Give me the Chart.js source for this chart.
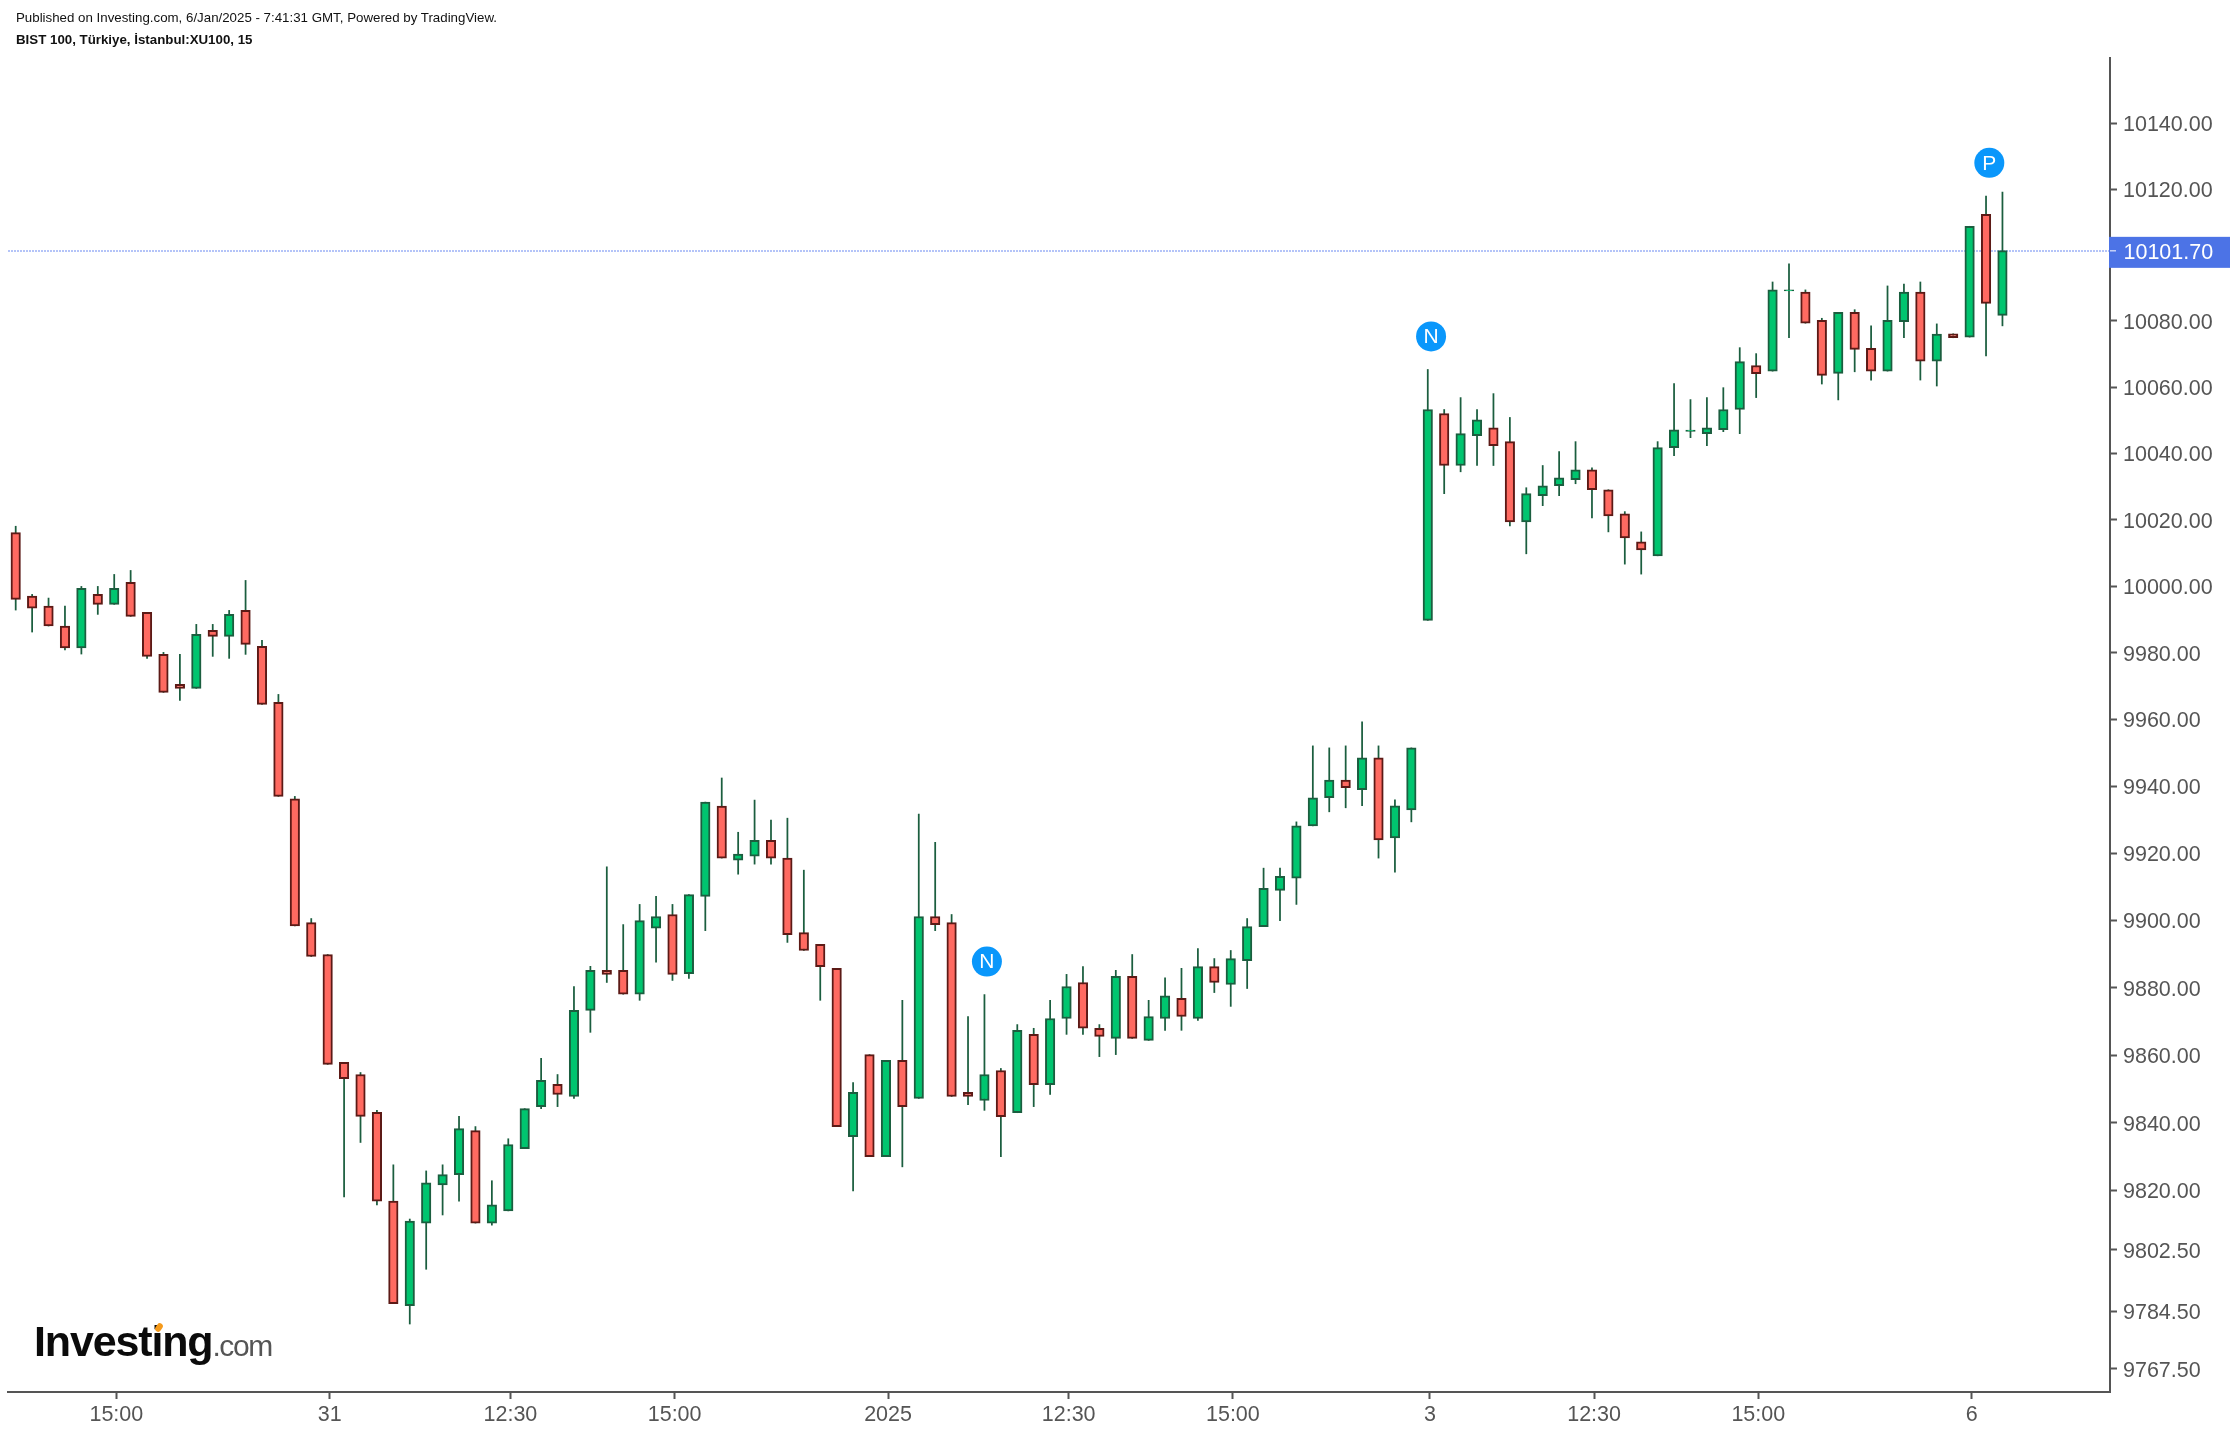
<!DOCTYPE html>
<html lang="en">
<head>
    <meta charset="UTF-8">
    <title>BIST 100, Türkiye, İstanbul:XU100, 15</title>
    <script src="https://cdn.jsdelivr.net/npm/chart.js"></script>
    <style>
        html, body { margin: 0; padding: 0; background: #fff; }
        body { width: 2230px; height: 1434px; position: relative; overflow: hidden; font-family: "Liberation Sans", Arial, sans-serif; }
        #priceChart { position: absolute; left: 0; top: 0; }
        .head { position: absolute; left: 16px; font-size: 13.3px; color: #111; white-space: nowrap; }
        #published { top: 10px; }
        #symbol { top: 32px; font-weight: bold; }
        #logo { position: absolute; left: 34px; top: 1316px; white-space: nowrap; color: #0b0b0b; font-weight: bold; font-size: 43px; letter-spacing: -1.15px; line-height: 50px; }
        #logo span { color: #555; font-weight: normal; font-size: 30px; letter-spacing: -1.4px; }
        #logoDot { position: absolute; left: 156px; top: 1323px; width: 6px; height: 9px; border-radius: 3px; background: #f59a1b; transform: rotate(35deg); }
    </style>
</head>
<body>
    <canvas id="priceChart" width="2230" height="1434"></canvas>
    <div class="head" id="published">Published on Investing.com, 6/Jan/2025 - 7:41:31 GMT, Powered by TradingView.</div>
    <div class="head" id="symbol">BIST 100, Türkiye, İstanbul:XU100, 15</div>
    <div id="logo">Investing<span>.com</span></div>
    <div id="logoDot"></div>

    <script>
    // 15 minute candles
    const opens = [10016.1,9997,9994,9988,9981.4,9997.5,9994.5,10001.1,9992.1,9979.5,9970.5,9969.3,9986.7,9984.9,9992.7,9981.9,9965.1,9936.3,9899.4,9889.9,
        9857.9,9854.3,9843.1,9816.9,9786.1,9810.4,9821.7,9824.7,9837.7,9810.4,9814,9832.4,9844.8,9851.4,9847.8,9873.3,9885.2,9885.2,9878.1,9897.7,
        9901.8,9884.2,9907.2,9934.1,9918,9919.2,9923.9,9918.6,9896.4,9892.9,9885.8,9835.9,9860.2,9830,9858.5,9847.2,9901.2,9899.4,9849,9846.6,
        9855.5,9843,9866.2,9851.3,9870.9,9881.6,9868,9865,9883.4,9864.4,9870.9,9876.9,9870.9,9886.3,9881,9888.1,9898.2,9909,9912.6,9928.2,
        9936.6,9941.9,9939,9948.5,9924.6,9933,9989.7,10052,10036.3,10045.3,10047.7,10043.5,10019.3,10027.2,10030.2,10032,10035,10029,10021.7,10013.3,
        10009.1,10041.7,10046.6,10045.9,10047.1,10053.2,10066.5,10064.8,10089.1,10088.7,10080.2,10064.1,10082.6,10071.7,10064.8,10079.8,10088.7,10067.8,10076.1,10075.1,
        10112.3,10081.7];
    const highs = [10018,9997.5,9996.4,9994,9999.9,9999.9,10003.5,10004.7,9992.1,9980.1,9979.5,9988.5,9988.5,9992.7,10001.7,9983.7,9967.5,9937,9900.6,9889.9,
        9857.9,9854.9,9843.7,9827.6,9811.6,9825.8,9827.6,9841.9,9838.9,9822.9,9835.3,9844.2,9859.1,9854.3,9880.4,9886.4,9916,9898.8,9904.8,9907.2,
        9904.8,9907.7,9935.3,9942.5,9926.3,9935.9,9929.9,9930.5,9915,9892.9,9885.8,9851.9,9860.2,9858.5,9876.3,9931.7,9923.3,9901.8,9871.5,9878,
        9856.1,9869.1,9868,9876.3,9884,9886.3,9869.1,9885.2,9889.9,9876.3,9883,9885.8,9891.7,9888.7,9891.1,9900.6,9915.6,9915.6,9929.4,9952.1,
        9951.5,9952.1,9959.3,9952.1,9936,9951.5,10065.3,10053.2,10056.8,10053.2,10058,10050.8,10029.6,10036.3,10040.5,10043.5,10035.6,10029,10022.4,10016.3,
        10043.5,10061,10056.2,10056.8,10059.8,10071.9,10070.1,10091.8,10097.3,10089.4,10080.8,10082.6,10083.4,10078.5,10090.6,10091.2,10091.8,10079.1,10076.1,10108.7,
        10117.9,10119.1];
    const lows = [9992.8,9986.2,9988,9980.8,9979.6,9991.5,9994.5,9990.9,9978.3,9968.1,9965.7,9969.3,9978.9,9978.3,9979.5,9964.5,9937,9898.4,9889.3,9857.3,
        9818.1,9834.2,9815.8,9786.7,9780.7,9796.8,9812.8,9816.9,9810.4,9809.8,9814,9832.4,9844.2,9844.8,9847.2,9866.8,9881.6,9878.1,9876.3,9887.6,
        9882.2,9882.8,9897,9918.6,9913.8,9916.8,9916.8,9893.5,9891.1,9876.3,9838.9,9819.9,9830,9830,9827,9847.2,9897,9847.8,9845.4,9843.7,
        9830,9843,9844.8,9848.4,9866.2,9866.2,9859.6,9860.2,9865,9864.4,9867.4,9867.4,9870.3,9878.6,9874.5,9879.8,9898.2,9900,9904.8,9928.2,
        9932.4,9933.6,9934.2,9918.6,9914.4,9929.4,9989.7,10027.8,10034.4,10036.3,10036.3,10018.1,10009.7,10024.2,10027.2,10030.8,10020.5,10016.3,10006.6,10003.6,
        10009.1,10039.3,10044.7,10042.3,10046.5,10045.9,10056.8,10064.8,10074.9,10079.3,10060.9,10056.1,10064.6,10062.1,10064.8,10074.9,10062.1,10060.3,10074.9,10075.1,
        10069.4,10078.5];
    const closes = [9996,9993.4,9988,9981.4,9999.3,9994.5,9999.3,9990.9,9978.9,9968.1,9969.3,9985.5,9984.9,9991.5,9982.5,9964.5,9937,9898.4,9889.3,9857.3,
        9853.1,9841.9,9816.9,9786.7,9811,9822.3,9824.7,9838.3,9810.4,9815.8,9833.6,9844.2,9852.6,9848.4,9873.3,9885.2,9884,9878.1,9900,9901.2,
        9884,9907.7,9935.3,9918.6,9919.8,9923.9,9918.6,9895.8,9891.1,9886.3,9838.9,9849,9830,9858.5,9844.8,9901.2,9898.8,9847.8,9847.8,9854.3,
        9841.8,9867.4,9851.3,9870.9,9880.4,9868,9865.6,9883.4,9865,9871.5,9877.6,9871.5,9886.3,9881.6,9888.7,9898.2,9909.6,9913.2,9928.2,9936.6,
        9941.9,9939.6,9948.5,9924,9934.2,9951.5,10053.2,10036.3,10045.9,10050.1,10042.3,10019.3,10027.8,10030.2,10032.6,10035,10029,10021.1,10014.5,10010.9,
        10041.7,10047.1,10047,10047.7,10053.2,10067.7,10064,10089.4,10089.4,10079.3,10063.5,10082.6,10071.4,10064.8,10080.2,10088.7,10067.8,10076,10074.9,10108.7,
        10085.3,10101.3];

    // price axis
    const priceTicks = [10140,10120,10080,10060,10040,10020,10000,9980,9960,9940,9920,9900,9880,9860,9840,9820,9802.5,9784.5,9767.5];
    const lastPrice = 10101.7;

    // time axis: position in candles -> label
    const timeTickIndex = [6.13,19.13,30.13,40.13,53.13,64.13,74.13,86.13,96.13,106.13,119.13];
    const timeTickLabels = ['15:00','31','12:30','15:00','2025','12:30','15:00','3','12:30','15:00','6'];

    // N / P event flags
    const flagIndex = [59.15,86.2,120.2];
    const flagPrice = [9887.8,10075.3,10128];
    const flagLetters = ['N','N','P'];

    const UP_FILL = '#00C56F', UP_EDGE = '#1B5E3F', DOWN_FILL = '#FF6A61', DOWN_EDGE = '#5C1A16';
    const AXIS = '#555555', BADGE = '#4C73E6', FLAG = '#0A97FB';
    const FONT = '"Liberation Sans", Arial, sans-serif';

    const isUp = opens.map((o, i) => closes[i] >= o);

    // dotted last price line goes behind the candles, the badge sits on the axis
    const lastPricePlugin = {
        id: 'lastPrice',
        beforeDraw(chart) {
            // price labels sit a little under their tick in the original
            chart.scales.y.getLabelItems().forEach(item => { item.options.translation[1] += 2; });
        },
        beforeDatasetsDraw(chart) {
            const ctx = chart.ctx, y = Math.round(chart.scales.y.getPixelForValue(lastPrice)) + 2;
            ctx.save();
            ctx.strokeStyle = '#B4C4F8';
            ctx.lineWidth = 2;
            ctx.setLineDash([2, 1]);
            ctx.beginPath();
            ctx.moveTo(chart.chartArea.left, y);
            ctx.lineTo(chart.chartArea.right, y);
            ctx.stroke();
            ctx.restore();
        },
        afterDraw(chart) {
            const ctx = chart.ctx, right = chart.chartArea.right;
            const y = chart.scales.y.getPixelForValue(lastPrice);
            ctx.save();
            ctx.fillStyle = BADGE;
            ctx.fillRect(right - 1, y - 12.5, chart.width - right + 1, 31);
            ctx.fillStyle = '#fff';
            ctx.fillRect(right, y + 1, 6, 1);
            ctx.font = '21.5px ' + FONT;
            ctx.textBaseline = 'middle';
            ctx.fillText(lastPrice.toFixed(2), right + 13.5, y + 4);

            // letters on the flags
            const meta = chart.getDatasetMeta(2);
            ctx.textAlign = 'center';
            ctx.font = '21px ' + FONT;
            meta.data.forEach((pt, i) => ctx.fillText(flagLetters[i], pt.x, pt.y + 1));
            ctx.restore();
        }
    };

    new Chart(document.getElementById('priceChart'), {
        data: {
            datasets: [
                {
                    type: 'bar',
                    order: 1,
                    grouped: false,
                    barThickness: 9.5,
                    borderWidth: 2,
                    borderSkipped: false,
                    backgroundColor: isUp.map(u => u ? UP_FILL : DOWN_FILL),
                    borderColor: isUp.map(u => u ? UP_EDGE : DOWN_EDGE),
                    data: opens.map((o, i) => ({ x: i, y: [o, closes[i]] }))
                },
                {
                    type: 'bar',
                    order: 2,
                    grouped: false,
                    barThickness: 1.1,
                    backgroundColor: UP_EDGE,
                    data: highs.map((h, i) => ({ x: i, y: [lows[i], h] }))
                },
                {
                    type: 'scatter',
                    order: 0,
                    pointRadius: 15,
                    pointBackgroundColor: FLAG,
                    pointBorderWidth: 0,
                    data: flagIndex.map((x, i) => ({ x: x, y: flagPrice[i] }))
                }
            ]
        },
        options: {
            responsive: false,
            animation: false,
            devicePixelRatio: 1,
            // autoPadding would reserve room for the flag radius on the left
            layout: { autoPadding: false, padding: { left: 8, top: 58, right: 0, bottom: 0 } },
            plugins: { legend: { display: false }, tooltip: { enabled: false } },
            scales: {
                x: {
                    type: 'linear',
                    offset: false,
                    min: -0.469,
                    max: 127.55,
                    afterBuildTicks(axis) { axis.ticks = timeTickIndex.map(v => ({ value: v })); },
                    afterFit(axis) { axis.height = 42; },
                    border: { color: AXIS, width: 2 },
                    grid: { offset: false, drawOnChartArea: false, drawTicks: true, tickLength: 7, tickColor: AXIS, tickWidth: 2 },
                    ticks: {
                        autoSkip: false,
                        maxRotation: 0,
                        padding: 3,
                        color: AXIS,
                        font: { family: FONT, size: 21.5 },
                        callback: (v, i) => timeTickLabels[i]
                    }
                },
                y: {
                    type: 'logarithmic',
                    position: 'right',
                    min: 9760.74,
                    max: 10159.95,
                    afterBuildTicks(axis) { axis.ticks = priceTicks.map(v => ({ value: v })); },
                    afterFit(axis) { axis.width = 120; },
                    border: { color: AXIS, width: 2 },
                    grid: { drawOnChartArea: false, drawTicks: true, tickLength: 7, tickColor: AXIS, tickWidth: 2 },
                    ticks: {
                        autoSkip: false,
                        padding: 6,
                        color: AXIS,
                        font: { family: FONT, size: 21.5 },
                        callback: v => v.toFixed(2)
                    }
                }
            }
        },
        plugins: [lastPricePlugin]
    });
    </script>
</body>
</html>
